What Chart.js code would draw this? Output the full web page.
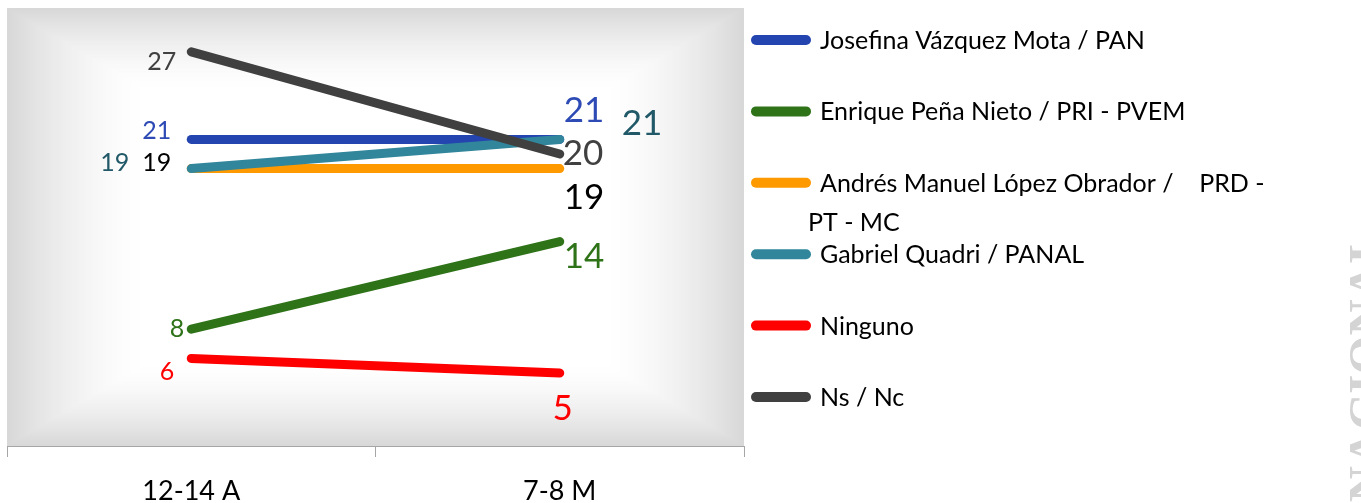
<!DOCTYPE html>
<html>
<head>
<meta charset="utf-8">
<script src="https://cdn.jsdelivr.net/npm/chart.js@4/dist/chart.umd.min.js"></script>
<style>
  html, body { margin: 0; padding: 0; background: #ffffff; }
  #wrap { position: relative; width: 1361px; height: 503px; }
</style>
</head>
<body>
<div id="wrap"><canvas id="c" width="1361" height="503"></canvas></div>
<script>
// ---- data ----
const categories = ['12-14 A', '7-8 M'];
const seriesNames = [
  'Josefina Vázquez Mota / PAN',
  'Enrique Peña Nieto / PRI - PVEM',
  'Andrés Manuel López Obrador /    PRD - PT - MC',
  'Gabriel Quadri / PANAL',
  'Ninguno',
  'Ns / Nc'
];
const panValues = [21, 21];
const priValues = [8, 14];
const amloValues = [19, 19];
const quadriValues = [19, 21];
const ningunoValues = [6, 5];
const nsncValues = [27, 20];
const watermarkText = 'NACIONAL';

// ---- style ----
const FONT = 'Lato, Carlito, Calibri, sans-serif';
const lineColors = ['#2444b0', '#2f7319', '#ff9900', '#31869b', '#ff0000', '#404040'];
const labelColors = ['#2e4bb5', '#2f7319', '#000000', '#215968', '#ff0000', '#404040'];
const drawOrder = [5, 4, 3, 2, 1, 0];
// per series, per point: [dx, dy (to text centre), align, fontSize]
const labelPlacement = [
  [[-20, -9, 'right', 25], [4, -30, 'left', 35]],
  [[-7, -1, 'right', 25], [4, 14, 'left', 35]],
  [[-20, -7, 'right', 25], [4, 28, 'left', 35]],
  [[-62, -7, 'right', 25], [62, -17, 'left', 35]],
  [[-17, 13, 'right', 25], [3, 34, 'center', 35]],
  [[-15, 9, 'right', 25], [3, -2, 'left', 35]]
];
const allValues = [panValues, priValues, amloValues, quadriValues, ningunoValues, nsncValues];

const bgPlugin = {
  id: 'bg',
  beforeDraw(chart) {
    const { ctx, chartArea: a } = chart;
    const w = a.right - a.left, h = a.bottom - a.top;
    const cx = a.left + w / 2, cy = a.top + h / 2;
    const steps = 60;
    const band = 0.38;
    ctx.save();
    ctx.fillStyle = '#ffffff';
    ctx.fillRect(a.left, a.top, w, h);
    for (let i = 0; i <= steps; i++) {
      const t = 1 - (i / steps) * band;
      const k = (t - (1 - band)) / band;
      const g = Math.round(255 - (255 - 216) * Math.pow(k, 1.6));
      ctx.fillStyle = `rgb(${g},${g},${g})`;
      const hw = (w / 2) * t, hh = (h / 2) * t;
      ctx.fillRect(cx - hw, cy - hh, hw * 2, hh * 2);
    }
    ctx.fillStyle = '#ffffff';
    const hw = (w / 2) * (1 - band), hh = (h / 2) * (1 - band);
    ctx.fillRect(cx - hw, cy - hh, hw * 2, hh * 2);
    ctx.restore();
  }
};

const labelPlugin = {
  id: 'vlabels',
  afterDatasetsDraw(chart) {
    const ctx = chart.ctx;
    ctx.save();
    chart.data.datasets.forEach((ds, si) => {
      const meta = chart.getDatasetMeta(si);
      meta.data.forEach((pt, pi) => {
        const [dx, dy, align, size] = labelPlacement[si][pi];
        ctx.font = `${size}px ${FONT}`;
        ctx.fillStyle = labelColors[si];
        ctx.textAlign = align;
        ctx.textBaseline = 'alphabetic';
        ctx.fillText(String(ds.data[pi]), pt.x + dx, pt.y + dy + size * 0.36);
      });
    });
    ctx.restore();
  }
};

const legendPlugin = {
  id: 'customLegend',
  afterDraw(chart) {
    const ctx = chart.ctx;
    ctx.save();
    const sx0 = 756, sx1 = 806, tx = 820, y0 = 40, gap = 71.4, size = 25;
    ctx.font = `${size}px ${FONT}`;
    chart.data.datasets.forEach((ds, i) => {
      const y = y0 + gap * i;
      ctx.strokeStyle = lineColors[i];
      ctx.lineWidth = 10;
      ctx.lineCap = 'round';
      ctx.beginPath();
      ctx.moveTo(sx0, y);
      ctx.lineTo(sx1, y);
      ctx.stroke();
      ctx.fillStyle = '#000000';
      ctx.textAlign = 'left';
      ctx.textBaseline = 'alphabetic';
      const maxW = 450;
      const words = ds.label.split(' ');
      const lines = [];
      let cur = null;
      words.forEach(wd => {
        const test = cur === null ? wd : cur + ' ' + wd;
        if (cur !== null && wd !== '' && ctx.measureText(test).width > maxW) { lines.push(cur); cur = wd; }
        else cur = test;
      });
      lines.push(cur);
      lines.forEach((ln, li) => {
        const x = li === 0 ? tx : tx - 12;
        ctx.fillText(ln, x, y + size * 0.36 + li * 39);
      });
    });
    // watermark
    const wsize = 50;
    ctx.translate(1350, 230);
    ctx.rotate(-Math.PI / 2);
    ctx.font = `bold ${wsize}px "Liberation Serif", serif`;
    ctx.fillStyle = '#d4d4d4';
    ctx.textAlign = 'right';
    ctx.textBaseline = 'alphabetic';
    ctx.fillText(watermarkText, 0, wsize * 0.66);
    ctx.restore();
  }
};

const datasets = allValues.map((vals, i) => ({
  label: seriesNames[i],
  data: vals,
  borderColor: lineColors[i],
  backgroundColor: lineColors[i],
  borderWidth: 9,
  borderCapStyle: 'round',
  borderJoinStyle: 'round',
  pointRadius: 0,
  pointHoverRadius: 0,
  tension: 0,
  fill: false,
  order: drawOrder[i]
}));

new Chart(document.getElementById('c'), {
  type: 'line',
  data: { labels: categories, datasets },
  plugins: [bgPlugin, labelPlugin, legendPlugin],
  options: {
    responsive: false,
    animation: false,
    devicePixelRatio: 1,
    layout: { padding: { left: 7, top: 8, right: 617, bottom: 0 } },
    plugins: { legend: { display: false }, tooltip: { enabled: false } },
    scales: {
      y: { display: false, min: 0, max: 30 },
      x: {
        offset: true,
        border: { display: true, color: '#a6a6a6', width: 1 },
        grid: { display: true, offset: true, drawOnChartArea: false, drawTicks: true, tickLength: 11, color: '#a6a6a6' },
        ticks: { color: '#000000', font: { family: FONT, size: 27 }, padding: 18, maxRotation: 0 },
        afterFit(scale) { scale.height = 57; }
      }
    }
  }
});
</script>
</body>
</html>
